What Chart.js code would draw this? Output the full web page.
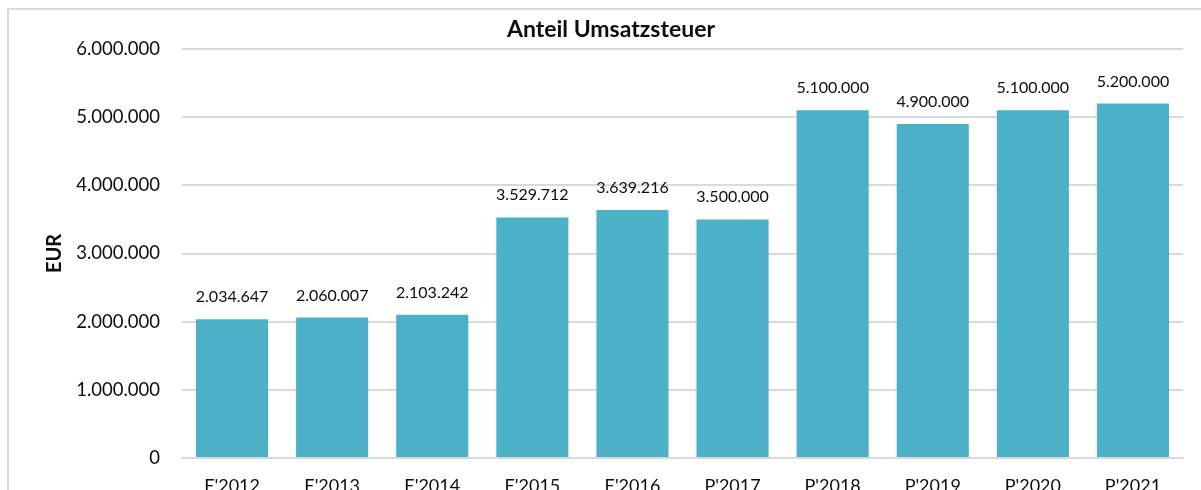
<!DOCTYPE html>
<html>
<head>
<meta charset="utf-8">
<script src="https://cdn.jsdelivr.net/npm/chart.js@4"></script>
<style>
  html, body { margin: 0; padding: 0; background: #fff; }
  #wrap { position: relative; width: 1201px; height: 490px; overflow: hidden; }
  #chart { display: block; }
</style>
</head>
<body>
<div id="wrap"><canvas id="chart" width="1201" height="520"></canvas></div>
<script>
const categories = ["E'2012", "E'2013", "E'2014", "E'2015", "E'2016", "P'2017", "P'2018", "P'2019", "P'2020", "P'2021"];
const umsatzsteuer = [2034647, 2060007, 2103242, 3529712, 3639216, 3500000, 5100000, 4900000, 5100000, 5200000];
const yTicks = [0, 1000000, 2000000, 3000000, 4000000, 5000000, 6000000];

const FONT = 'Lato, "Open Sans", sans-serif';
const TEXT = '#0d0d0d';
const GRID = '#d9d9d9';

// 1234567 -> "1.234.567"
function fmt(v) {
  return String(Math.round(v)).replace(/\B(?=(\d{3})+(?!\d))/g, '.');
}

// frame, title, axis title and value labels
const decor = {
  id: 'decor',
  beforeDraw(chart) {
    const ctx = chart.ctx;
    ctx.save();
    ctx.strokeStyle = GRID;
    ctx.lineWidth = 2;
    ctx.beginPath();
    ctx.moveTo(8, chart.height);
    ctx.lineTo(8, 9);
    ctx.lineTo(chart.width, 9);
    ctx.stroke();
    ctx.restore();
  },
  afterDatasetsDraw(chart) {
    const ctx = chart.ctx;
    const area = chart.chartArea;
    ctx.save();
    ctx.fillStyle = TEXT;

    ctx.font = 'bold 23px ' + FONT;
    ctx.textAlign = 'center';
    ctx.textBaseline = 'middle';
    ctx.fillText('Anteil Umsatzsteuer', 611, 30);

    ctx.save();
    ctx.translate(55, (area.top + area.bottom) / 2);
    ctx.rotate(-Math.PI / 2);
    ctx.font = 'bold 20px ' + FONT;
    ctx.fillText('EUR', 0, 0);
    ctx.restore();

    ctx.font = '16px ' + FONT;
    ctx.textBaseline = 'alphabetic';
    chart.getDatasetMeta(0).data.forEach((bar, i) => {
      ctx.fillText(fmt(umsatzsteuer[i]), bar.x, bar.y - 17);
    });
    ctx.restore();
  }
};

new Chart(document.getElementById('chart'), {
  type: 'bar',
  data: {
    labels: categories,
    datasets: [{
      label: 'Anteil Umsatzsteuer',
      data: umsatzsteuer,
      backgroundColor: '#4bb1c6',
      borderWidth: 0,
      barPercentage: 0.72,
      categoryPercentage: 1
    }]
  },
  options: {
    responsive: false,
    animation: false,
    layout: { padding: { top: 49, right: 18, left: 0, bottom: 0 } },
    plugins: {
      legend: { display: false },
      title: { display: false },
      tooltip: { enabled: false }
    },
    scales: {
      x: {
        grid: { display: false, drawTicks: false },
        border: { display: true, color: GRID, width: 2 },
        ticks: { color: TEXT, font: { family: FONT, size: 18 }, padding: 17, maxRotation: 0 },
        afterFit(scale) { scale.height = 520 - 458; }
      },
      y: {
        min: 0,
        max: 6000000,
        afterBuildTicks(scale) { scale.ticks = yTicks.map(v => ({ value: v })); },
        grid: { color: GRID, lineWidth: 2, drawTicks: false },
        border: { display: false },
        ticks: {
          color: TEXT,
          font: { family: FONT, size: 18.5 },
          padding: 22,
          callback: v => fmt(v)
        },
        afterFit(scale) { scale.width = 182; }
      }
    }
  },
  plugins: [decor]
});
</script>
</body>
</html>
